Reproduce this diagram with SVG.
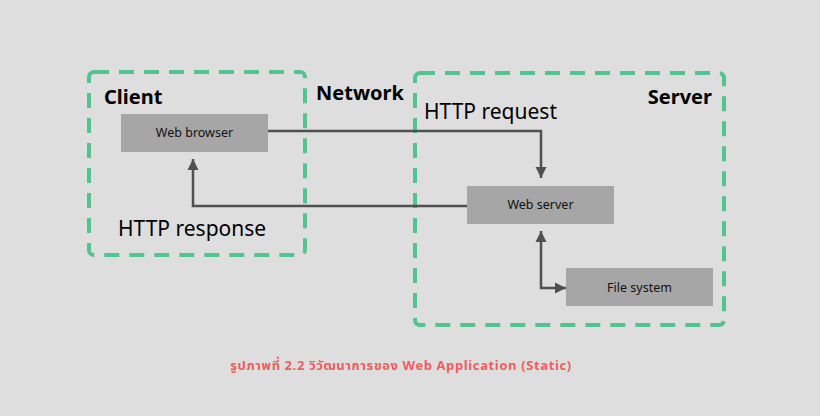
<svg xmlns="http://www.w3.org/2000/svg" width="820" height="416" viewBox="0 0 820 416">
<style>
.zone{fill:none;stroke:#52c48f;stroke-width:4;stroke-dasharray:15 10}
.box{fill:#a6a6a6}
.lbl{font-family:"Noto Sans","Open Sans","DejaVu Sans",sans-serif;font-size:12.5px;fill:#111;text-anchor:middle}
.title{font-family:"Noto Sans","Open Sans","DejaVu Sans",sans-serif;font-size:20px;font-weight:bold;fill:#000}
.big{font-family:"Noto Sans","Open Sans","DejaVu Sans",sans-serif;font-size:21px;fill:#000}
.conn{fill:none;stroke:#505050;stroke-width:2.5}
.cap{font-family:"Noto Sans Thai","Noto Sans","DejaVu Sans",sans-serif;font-size:13px;font-weight:bold;fill:#f25c5c;text-anchor:middle;letter-spacing:0.6px}
</style>
<defs>
<marker id="ah" viewBox="0 0 10 10" refX="10" refY="5" markerWidth="4.5" markerHeight="4.5" orient="auto-start-reverse" markerUnits="strokeWidth">
<path d="M0,0 L10,5 L0,10 Z" fill="#505050"/>
</marker>
</defs>
<rect width="820" height="416" fill="#dedede"/>
<g id="client-zone">
<rect class="zone" x="89" y="72" width="216" height="183" rx="5"/>
<text class="title" x="104" y="104">Client</text>
</g>
<g id="server-zone">
<rect class="zone" x="415" y="73" width="309" height="252" rx="5"/>
<text class="title" x="712" y="104" text-anchor="end">Server</text>
</g>
<g id="network-label">
<text class="title" x="316" y="100">Network</text>
</g>
<g id="connectors">
<polyline class="conn" points="268,131 541,131 541,178" marker-end="url(#ah)"/>
<polyline class="conn" points="467,206 193,206 193,159" marker-end="url(#ah)"/>
<polyline class="conn" points="541,231 541,288 566,288" marker-start="url(#ah)" marker-end="url(#ah)"/>
<text class="big" x="424" y="119">HTTP request</text>
<text class="big" x="118" y="236">HTTP response</text>
</g>
<g id="web-browser">
<rect class="box" x="121" y="114" width="147" height="38"/>
<text class="lbl" x="194.5" y="137">Web browser</text>
</g>
<g id="web-server">
<rect class="box" x="467" y="186" width="147" height="38"/>
<text class="lbl" x="540.5" y="209">Web server</text>
</g>
<g id="file-system">
<rect class="box" x="566" y="268" width="147" height="38"/>
<text class="lbl" x="639.5" y="292">File system</text>
</g>
<text class="cap" x="401" y="370">รูปภาพที่ 2.2 วิวัฒนาการของ Web Application (Static)</text>
</svg>
